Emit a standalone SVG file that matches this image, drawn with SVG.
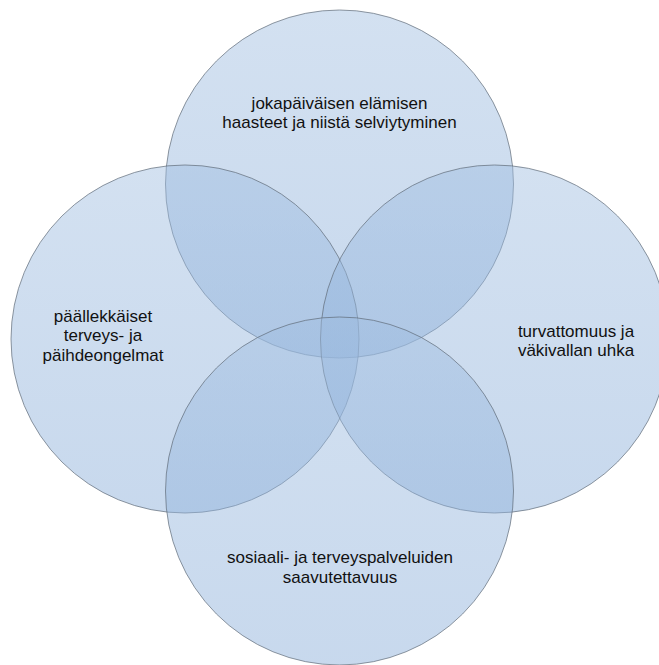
<svg xmlns="http://www.w3.org/2000/svg" width="659" height="665" viewBox="0 0 659 665">
<defs>
<linearGradient id="g" x1="0" y1="0" x2="0" y2="1">
<stop offset="0" stop-color="#9fbde0"/>
<stop offset="1" stop-color="#86abd8"/>
</linearGradient>
<style>
.c{fill:url(#g);fill-opacity:0.46;stroke:#5f6b78;stroke-opacity:0.7;stroke-width:1}
.t{font-family:"Liberation Sans",Arial,sans-serif;font-size:17px;fill:#111;text-anchor:middle}
</style>
</defs>
<rect width="659" height="665" fill="#ffffff"/>
<g id="top">
<circle class="c" cx="339.5" cy="184" r="174"/>
<text class="t" x="339.5" y="108.5">jokapäiväisen elämisen</text>
<text class="t" x="339.5" y="128">haasteet ja niistä selviytyminen</text>
</g>
<g id="left">
<circle class="c" cx="185" cy="339" r="174"/>
<text class="t" x="103" y="321.5">päällekkäiset</text>
<text class="t" x="103" y="341">terveys- ja</text>
<text class="t" x="103" y="360.5">päihdeongelmat</text>
</g>
<g id="right">
<circle class="c" cx="494.5" cy="339" r="174"/>
<text class="t" x="576" y="336.5">turvattomuus ja</text>
<text class="t" x="576" y="356">väkivallan uhka</text>
</g>
<g id="bottom">
<circle class="c" cx="339.5" cy="491" r="174"/>
<text class="t" x="340" y="563">sosiaali- ja terveyspalveluiden</text>
<text class="t" x="340" y="582.5">saavutettavuus</text>
</g>
<g id="connectors"/>
</svg>
